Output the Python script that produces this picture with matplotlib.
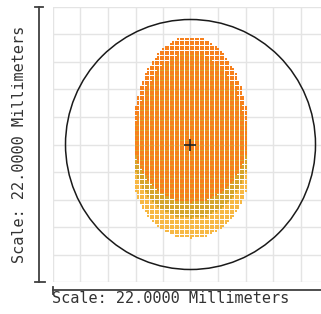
import numpy as np
import matplotlib as mpl
mpl.use('Agg')
import matplotlib.pyplot as plt
from matplotlib.patches import Circle

# spot diagram, units in millimeters
scale_mm = 22.0
circle_radius = 10.0
chief_ray = (0.0, 0.0)

# one spot per field / wavelength, drawn back to front
spot_colors = ['#F7B844', '#D6A52C', '#F7801C']
spot_cx = [0.0, 0.0, 0.0]
spot_cy = [-2.14, -0.54, 0.76]
spot_rx = [4.6, 4.6, 4.6]
spot_ry_top = [7.84, 7.84, 7.84]
spot_ry_bottom = [5.36, 5.36, 5.36]
ray_step_x = 0.2
ray_step_y = 0.2

fig = plt.figure(figsize=(3.21, 3.14), dpi=100)
ax = fig.add_axes([53/321, 1 - 282/314, 275/321, 275/314])
ax.set_xlim(-scale_mm/2, scale_mm/2)
ax.set_ylim(-scale_mm/2, scale_mm/2)

grid = np.linspace(-scale_mm/2, scale_mm/2, 11)
ax.set_xticks(grid)
ax.set_yticks(grid)
ax.grid(True, color='#E4E4E4', lw=1.0)
ax.tick_params(length=0, labelbottom=False, labelleft=False)
for s in ax.spines.values():
    s.set_visible(False)
ax.set_axisbelow(True)

# rays on a square pupil grid, kept where they land inside each spot
for c, cx, cy, rx, ryt, ryb in zip(spot_colors, spot_cx, spot_cy, spot_rx,
                                   spot_ry_top, spot_ry_bottom):
    xs = np.arange(-rx, rx + 1e-9, ray_step_x)
    ys = np.arange(-ryb, ryt + 1e-9, ray_step_y)
    gx, gy = np.meshgrid(xs, ys)
    ry = np.where(gy >= 0, ryt, ryb)
    keep = (gx / rx) ** 2 + (gy / ry) ** 2 <= 1.0
    ax.scatter(gx[keep] + cx, gy[keep] + cy, s=1.1, marker='s', color=c,
               linewidths=0, zorder=2)

ax.add_patch(Circle((0, 0), circle_radius, fill=False, ec='#1a1a1a', lw=1.1, zorder=3))
ax.plot(*chief_ray, marker='+', color='#222222', ms=8, mew=1.2, zorder=4)

# scale bars
kw = dict(color='#404040', lw=1.3, clip_on=False, transform=ax.transAxes)
bx = (39 - 53) / 275
ax.plot([bx, bx], [0, 1], **kw)
ax.plot([bx - 0.016, bx + 0.016], [1, 1], **kw)
ax.plot([bx - 0.016, bx + 0.02], [0, 0], **kw)
by = -(290 - 282) / 275
ax.plot([0, 1.1], [by, by], **kw)
ax.plot([0, 0], [by + 0.012, by - 0.014], **kw)

label = 'Scale: %.4f Millimeters' % scale_mm
ax.text(-0.004, -0.034, label, transform=ax.transAxes, ha='left', va='top',
        family='DejaVu Sans Mono', fontsize=11, color='#333333')
ax.text(-0.12, 0.5, label, transform=ax.transAxes, ha='center', va='center',
        rotation=90, family='DejaVu Sans Mono', fontsize=11, color='#333333')

plt.savefig('out.png', dpi=100)
